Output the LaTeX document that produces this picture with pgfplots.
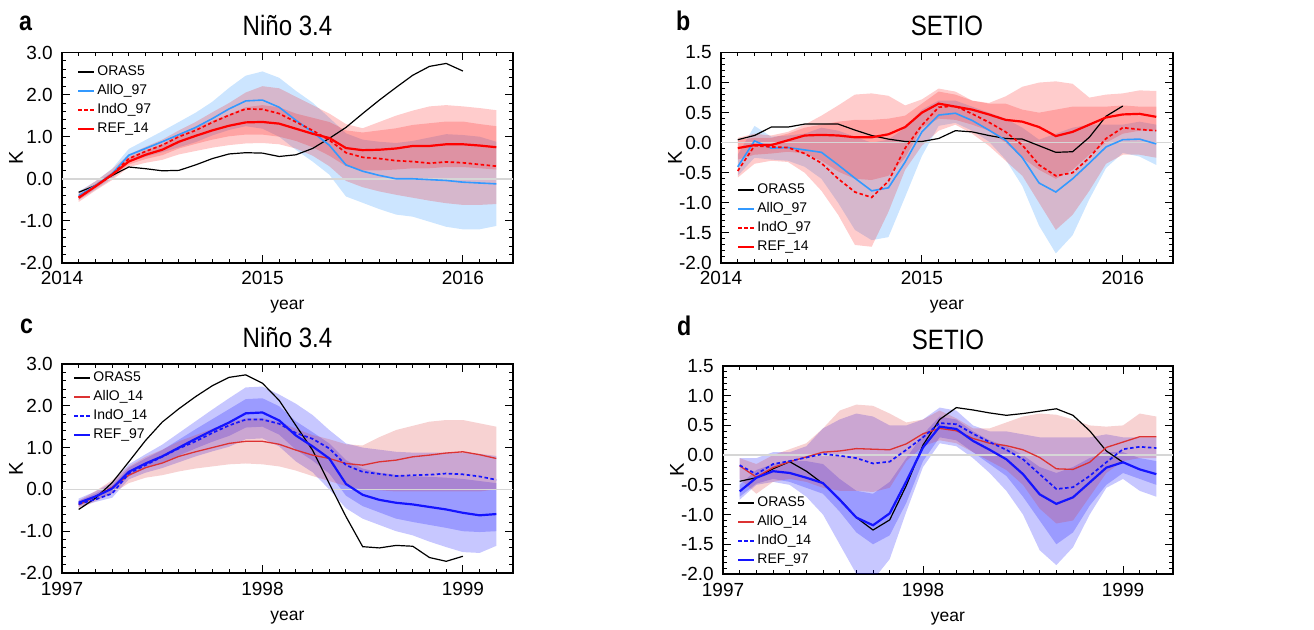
\documentclass[border=0pt]{standalone}
\usepackage{fontspec}
\setmainfont{Liberation Sans}[FakeStretch=0.86]
\newfontfamily\tf{Liberation Sans}
\usepackage{pgfplots}
\usepackage{pgfplotstable}
\pgfplotsset{compat=1.18}
\usepgfplotslibrary{fillbetween}

\definecolor{lblue}{RGB}{51,153,255}
\definecolor{dred}{RGB}{220,50,50}
\definecolor{dblue}{RGB}{20,20,255}

% Panel a: Nino 3.4, 2014 experiments
\pgfplotstableread{
m oras allo indo ref blo bhi rolo rohi rilo rihi
1 -0.32 -0.40 -0.44 -0.45 -0.50 -0.30 -0.55 -0.32 -0.50 -0.40
2 -0.16 -0.16 -0.18 -0.18 -0.26 -0.06 -0.28 -0.06 -0.23 -0.12
3 0.08 0.12 0.10 0.10 0.00 0.24 -0.03 0.23 0.04 0.16
4 0.28 0.56 0.48 0.41 0.41 0.71 0.28 0.58 0.34 0.50
5 0.24 0.72 0.65 0.57 0.52 0.92 0.38 0.76 0.47 0.67
6 0.19 0.88 0.80 0.69 0.63 1.13 0.45 0.93 0.56 0.82
7 0.20 1.05 1.00 0.88 0.75 1.35 0.58 1.15 0.72 1.04
8 0.33 1.22 1.15 1.02 0.87 1.57 0.66 1.35 0.83 1.21
9 0.48 1.43 1.34 1.15 1.03 1.83 0.74 1.58 0.93 1.38
10 0.59 1.66 1.51 1.26 1.16 2.16 0.80 1.80 1.01 1.53
11 0.62 1.85 1.66 1.34 1.25 2.45 0.84 2.05 1.05 1.70
12 0.61 1.87 1.65 1.35 1.19 2.55 0.85 2.20 1.05 1.75
13 0.53 1.70 1.55 1.31 1.00 2.40 0.82 2.15 1.00 1.70
14 0.57 1.39 1.35 1.19 0.69 2.09 0.72 1.95 0.90 1.55
15 0.72 1.11 1.15 1.07 0.41 1.81 0.55 1.75 0.75 1.45
16 0.96 0.80 0.92 0.97 0.10 1.45 0.30 1.55 0.55 1.35
17 1.22 0.33 0.62 0.73 -0.42 1.08 -0.05 1.30 0.30 1.15
18 1.55 0.18 0.51 0.68 -0.57 0.93 -0.20 1.20 0.20 1.10
19 1.87 0.08 0.48 0.69 -0.72 0.88 -0.30 1.35 0.20 1.15
20 2.17 0.00 0.43 0.72 -0.85 0.85 -0.38 1.50 0.22 1.20
21 2.46 0.00 0.41 0.78 -0.90 0.90 -0.45 1.62 0.25 1.28
22 2.67 -0.02 0.37 0.78 -1.02 0.98 -0.52 1.72 0.25 1.32
23 2.74 -0.04 0.40 0.82 -1.14 1.06 -0.58 1.75 0.28 1.36
24 2.56 -0.08 0.38 0.82 -1.20 1.04 -0.62 1.72 0.28 1.36
25 nan -0.10 0.34 0.79 -1.20 1.00 -0.62 1.68 0.25 1.30
26 nan -0.12 0.30 0.75 -1.12 0.88 -0.60 1.63 0.22 1.25
}\dataA

% Panel b: SETIO, 2014 experiments
\pgfplotstableread{
m oras allo indo ref blo bhi rolo rohi rilo rihi
1 0.05 -0.40 -0.47 -0.09 -0.55 -0.20 -0.58 0.08 -0.28 0.05
2 0.12 0.03 -0.05 -0.04 -0.25 0.28 -0.35 0.15 -0.20 0.08
3 0.26 -0.09 -0.07 -0.04 -0.28 0.10 -0.30 0.12 -0.18 0.08
4 0.26 -0.08 -0.08 0.04 -0.30 0.12 -0.32 0.18 -0.15 0.15
5 0.31 -0.12 -0.18 0.12 -0.40 0.15 -0.50 0.30 -0.18 0.25
6 0.31 -0.16 -0.34 0.13 -0.60 0.25 -0.80 0.45 -0.30 0.30
7 0.31 -0.37 -0.60 0.12 -1.00 0.20 -1.20 0.62 -0.48 0.35
8 0.21 -0.59 -0.82 0.09 -1.45 0.10 -1.70 0.80 -0.60 0.38
9 0.12 -0.80 -0.91 0.09 -1.62 0.00 -1.73 0.82 -0.62 0.38
10 0.06 -0.75 -0.64 0.14 -1.57 0.05 -1.15 0.78 -0.55 0.40
11 0.02 -0.32 -0.09 0.26 -0.90 0.25 -0.45 0.62 -0.25 0.45
12 0.02 0.18 0.29 0.50 -0.22 0.55 -0.05 0.72 0.25 0.65
13 0.07 0.46 0.59 0.65 0.28 0.70 0.20 0.90 0.40 0.85
14 0.20 0.49 0.61 0.60 0.33 0.70 0.30 0.85 0.38 0.80
15 0.18 0.37 0.48 0.55 0.20 0.60 0.15 0.70 0.30 0.70
16 0.12 0.21 0.34 0.47 0.02 0.50 -0.05 0.66 0.20 0.65
17 0.07 0.04 0.18 0.38 -0.28 0.40 -0.30 0.77 0.00 0.65
18 0.06 -0.25 -0.04 0.35 -0.72 0.25 -0.55 0.93 -0.25 0.55
19 -0.05 -0.67 -0.37 0.26 -1.38 0.05 -1.00 1.00 -0.45 0.50
20 -0.16 -0.82 -0.55 0.11 -1.84 0.15 -1.45 1.02 -0.60 0.55
21 -0.15 -0.60 -0.50 0.18 -1.54 0.25 -1.20 0.98 -0.45 0.60
22 0.09 -0.34 -0.25 0.30 -0.94 0.30 -0.80 0.75 -0.20 0.60
23 0.44 -0.07 0.07 0.42 -0.42 0.30 -0.35 0.80 0.00 0.60
24 0.61 0.05 0.25 0.47 -0.17 0.30 -0.20 0.82 0.15 0.62
25 nan 0.06 0.22 0.48 -0.23 0.35 -0.20 0.87 0.20 0.60
26 nan -0.02 0.20 0.43 -0.37 0.30 -0.25 0.86 0.20 0.60
}\dataB

% Panel c: Nino 3.4, 1997 experiments
\pgfplotstableread{
m oras allo indo ref rlo rhi bolo bohi bilo bihi
1 -0.48 -0.37 -0.35 -0.32 -0.47 -0.27 -0.42 -0.22 -0.38 -0.27
2 -0.21 -0.17 -0.24 -0.17 -0.28 -0.04 -0.30 -0.05 -0.25 -0.10
3 0.16 0.05 -0.10 0.02 -0.10 0.22 -0.20 0.17 -0.10 0.10
4 0.66 0.34 0.38 0.42 0.15 0.55 0.24 0.60 0.32 0.52
5 1.17 0.52 0.58 0.62 0.28 0.78 0.40 0.84 0.50 0.74
6 1.61 0.63 0.78 0.79 0.34 0.95 0.51 1.07 0.64 0.94
7 1.93 0.79 0.98 1.00 0.43 1.15 0.65 1.35 0.81 1.19
8 2.22 0.90 1.15 1.21 0.50 1.30 0.79 1.63 0.98 1.44
9 2.48 1.00 1.35 1.41 0.55 1.45 0.91 1.91 1.14 1.68
10 2.68 1.10 1.53 1.60 0.60 1.60 1.02 2.18 1.28 1.92
11 2.74 1.15 1.67 1.82 0.62 1.70 1.20 2.44 1.48 2.16
12 2.54 1.15 1.67 1.84 0.60 1.70 1.22 2.46 1.50 2.18
13 2.13 1.08 1.57 1.65 0.55 1.62 1.03 2.27 1.31 1.99
14 1.53 0.94 1.35 1.29 0.45 1.45 0.67 2.05 0.95 1.63
15 0.94 0.82 1.21 1.03 0.32 1.30 0.41 1.78 0.69 1.37
16 0.14 0.74 0.98 0.74 0.20 1.20 0.00 1.42 0.38 1.10
17 -0.65 0.62 0.58 0.13 0.08 1.08 -0.45 1.10 -0.15 0.70
18 -1.37 0.58 0.42 -0.13 0.00 1.05 -0.70 1.00 -0.40 0.50
19 -1.40 0.66 0.37 -0.25 -0.02 1.25 -0.85 0.95 -0.55 0.40
20 -1.34 0.70 0.32 -0.32 -0.05 1.42 -1.00 0.90 -0.70 0.35
21 -1.36 0.78 0.34 -0.36 -0.05 1.52 -1.10 0.88 -0.78 0.32
22 -1.63 0.82 0.35 -0.42 -0.05 1.62 -1.25 0.88 -0.85 0.30
23 -1.72 0.87 0.38 -0.48 -0.05 1.66 -1.38 0.88 -0.92 0.28
24 -1.60 0.90 0.36 -0.56 -0.05 1.66 -1.50 0.88 -1.00 0.25
25 nan 0.83 0.31 -0.62 -0.05 1.58 -1.52 0.85 -1.02 0.20
26 nan 0.74 0.23 -0.59 0.00 1.50 -1.35 0.80 -1.00 0.15
}\dataC

% Panel d: SETIO, 1997 experiments
\pgfplotstableread{
m oras allo indo ref rlo rhi bolo bohi bilo bihi
1 -0.44 -0.18 -0.17 -0.61 -0.40 -0.05 -0.75 -0.05 -0.70 -0.50
2 -0.38 -0.37 -0.32 -0.38 -0.65 -0.15 -0.50 -0.05 -0.48 -0.25
3 -0.23 -0.21 -0.15 -0.27 -0.45 0.00 -0.45 0.05 -0.40 -0.15
4 -0.11 -0.11 -0.10 -0.30 -0.40 0.10 -0.50 0.05 -0.45 -0.10
5 -0.27 -0.03 -0.04 -0.38 -0.45 0.20 -0.70 0.15 -0.55 -0.10
6 -0.48 0.05 0.02 -0.47 -0.55 0.45 -1.00 0.45 -0.65 -0.15
7 -0.74 0.07 -0.01 -0.75 -0.60 0.75 -1.50 0.60 -0.95 -0.40
8 -1.05 0.11 -0.05 -1.05 -0.60 0.85 -2.00 0.70 -1.30 -0.60
9 -1.26 0.10 -0.14 -1.18 -0.62 0.83 -2.10 0.65 -1.50 -0.65
10 -1.09 0.09 -0.11 -0.98 -0.55 0.70 -1.75 0.50 -1.35 -0.45
11 -0.51 0.19 0.09 -0.44 -0.10 0.55 -0.95 0.50 -0.80 -0.05
12 0.17 0.36 0.30 0.13 0.15 0.60 -0.20 0.60 -0.10 0.35
13 0.60 0.45 0.54 0.48 0.25 0.75 0.20 0.80 0.30 0.65
14 0.80 0.41 0.52 0.44 0.20 0.62 0.15 0.75 0.25 0.60
15 0.76 0.28 0.36 0.24 0.05 0.45 -0.05 0.50 0.05 0.40
16 0.71 0.20 0.22 0.09 -0.10 0.45 -0.30 0.40 -0.15 0.25
17 0.67 0.16 0.09 -0.07 -0.25 0.55 -0.60 0.40 -0.35 0.15
18 0.70 0.09 -0.07 -0.32 -0.50 0.65 -1.00 0.35 -0.70 0.00
19 0.74 -0.04 -0.32 -0.66 -0.90 0.70 -1.60 0.30 -1.10 -0.20
20 0.78 -0.23 -0.57 -0.82 -1.15 0.68 -1.85 0.30 -1.50 -0.30
21 0.67 -0.24 -0.54 -0.71 -1.10 0.60 -1.55 0.30 -1.30 -0.20
22 0.41 -0.12 -0.35 -0.46 -0.70 0.50 -1.00 0.30 -0.85 -0.05
23 0.07 0.13 -0.12 -0.21 -0.30 0.48 -0.55 0.35 -0.50 0.05
24 -0.12 0.22 0.10 -0.12 -0.10 0.50 -0.40 0.30 -0.30 0.05
25 nan 0.31 0.14 -0.24 -0.05 0.70 -0.60 0.30 -0.40 -0.05
26 nan 0.31 0.12 -0.32 -0.05 0.65 -0.70 0.30 -0.50 -0.10
}\dataD

\newcommand{\tickfont}{\tf\fontsize{19}{20}\selectfont}
\newcommand{\band}[6]{%
  \addplot[draw=none, forget plot, name path=#6lo] table[x=m,y=#2]{#1};
  \addplot[draw=none, forget plot, name path=#6hi] table[x=m,y=#3]{#1};
  \addplot[fill=#4, fill opacity=#5, draw=none, forget plot] fill between[of=#6lo and #6hi];
}

\pgfplotsset{
  base/.style={
    scale only axis, anchor=south west,
    xmin=0, xmax=27, xtick={0,12,24}, minor xtick={0,...,27},
    axis line style={line width=1.5pt},
    major tick length=8pt, minor tick length=4pt,
    tick style={line width=1pt, black},
    xticklabel style={anchor=base, yshift=-22pt, inner sep=0pt, font=\tickfont},
    yticklabel style={anchor=east, xshift=-9pt, inner sep=0pt, font=\tickfont},
    xlabel={year},
    xlabel style={at={(axis description cs:0.5,0)}, anchor=base, yshift=-47pt, font=\tf\fontsize{17.5}{19}\selectfont},
    ylabel={K},
    ylabel style={at={(axis description cs:-0.102,0.5)}, anchor=center, font=\tf\fontsize{20}{22}\selectfont},
    title style={at={(axis description cs:0.5,1)}, anchor=base, yshift=10.5pt, font=\fontsize{28}{30}\selectfont},
    legend cell align=left,
    legend style={draw=none, fill=none, inner sep=0pt, font=\tf\fontsize{14}{16}\selectfont,
      row sep=5.5pt, column sep=2pt, nodes={inner sep=0pt, text height=10.5pt, text depth=3pt}},
    legend image code/.code={\draw[#1] (0pt,0pt) -- (16pt,0pt);},
  },
  nino/.style={ymin=-2, ymax=3, ytick={-2,-1,0,1,2,3},
    yticklabels={-2.0,-1.0,0.0,1.0,2.0,3.0}, minor ytick={-2,-1.8,...,3}},
  setio/.style={ymin=-2, ymax=1.5, ytick={-2,-1.5,-1,-0.5,0,0.5,1,1.5},
    yticklabels={-2.0,-1.5,-1.0,-0.5,0.0,0.5,1.0,1.5}, minor ytick={-2,-1.9,...,1.5}},
  zeroline/.style={line width=1.5pt, color=black!16, forget plot},
  dashedl/.style={dash pattern=on 3.5pt off 2.5pt},
}

\begin{document}
\begin{tikzpicture}

% ---------- a ----------
\begin{axis}[base, nino, at={(62pt,366pt)}, width=451pt, height=210.5pt,
  xticklabels={2014,2015,2016}, title={Niño 3.4},
  legend style={at={(axis description cs:0,1)}, anchor=north west, xshift=15pt, yshift=-12.5pt}]
\addplot[zeroline] coordinates {(0,0) (27,0)};
\band{\dataA}{blo}{bhi}{lblue}{0.25}{aB}
\band{\dataA}{rolo}{rohi}{red}{0.2}{aRO}
\band{\dataA}{rilo}{rihi}{red}{0.2}{aRI}
\addplot[black, line width=1.2pt] table[x=m,y=oras]{\dataA};
\addlegendentry{ORAS5}
\addplot[lblue, line width=1.6pt] table[x=m,y=allo]{\dataA};
\addlegendentry{AllO\_97}
\addplot[red, line width=1.7pt, dashedl] table[x=m,y=indo]{\dataA};
\addlegendentry{IndO\_97}
\addplot[red, line width=2.2pt] table[x=m,y=ref]{\dataA};
\addlegendentry{REF\_14}
\end{axis}

% ---------- b ----------
\begin{axis}[base, setio, at={(721pt,366pt)}, width=452pt, height=210.5pt,
  xticklabels={2014,2015,2016}, title={SETIO},
  legend style={at={(axis description cs:0,0)}, anchor=south west, xshift=16pt, yshift=9pt}]
\addplot[zeroline] coordinates {(0,0) (27,0)};
\band{\dataB}{blo}{bhi}{lblue}{0.25}{bB}
\band{\dataB}{rolo}{rohi}{red}{0.2}{bRO}
\band{\dataB}{rilo}{rihi}{red}{0.2}{bRI}
\addplot[black, line width=1.2pt] table[x=m,y=oras]{\dataB};
\addlegendentry{ORAS5}
\addplot[lblue, line width=1.6pt] table[x=m,y=allo]{\dataB};
\addlegendentry{AllO\_97}
\addplot[red, line width=1.7pt, dashedl] table[x=m,y=indo]{\dataB};
\addlegendentry{IndO\_97}
\addplot[red, line width=2.2pt] table[x=m,y=ref]{\dataB};
\addlegendentry{REF\_14}
\end{axis}

% ---------- c ----------
\begin{axis}[base, nino, at={(62pt,56pt)}, width=451pt, height=209pt,
  xticklabels={1997,1998,1999}, title={Niño 3.4},
  legend style={at={(axis description cs:0,1)}, anchor=north west, xshift=11pt, yshift=-7pt}]
\addplot[zeroline] coordinates {(0,0) (27,0)};
\band{\dataC}{bolo}{bohi}{blue}{0.22}{cBO}
\band{\dataC}{bilo}{bihi}{blue}{0.22}{cBI}
\band{\dataC}{rlo}{rhi}{dred}{0.22}{cR}
\addplot[black, line width=1.2pt] table[x=m,y=oras]{\dataC};
\addlegendentry{ORAS5}
\addplot[dred, line width=1.3pt] table[x=m,y=allo]{\dataC};
\addlegendentry{AllO\_14}
\addplot[dblue, line width=1.7pt, dashedl] table[x=m,y=indo]{\dataC};
\addlegendentry{IndO\_14}
\addplot[dblue, line width=2.2pt] table[x=m,y=ref]{\dataC};
\addlegendentry{REF\_97}
\end{axis}

% ---------- d ----------
\begin{axis}[base, setio, at={(723pt,55pt)}, width=450pt, height=208pt,
  xticklabels={1997,1998,1999}, title={SETIO},
  legend style={at={(axis description cs:0,0)}, anchor=south west, xshift=14pt, yshift=7pt}]
\addplot[zeroline] coordinates {(0,0) (27,0)};
\band{\dataD}{bolo}{bohi}{blue}{0.22}{dBO}
\band{\dataD}{bilo}{bihi}{blue}{0.22}{dBI}
\band{\dataD}{rlo}{rhi}{dred}{0.22}{dR}
\addplot[black, line width=1.2pt] table[x=m,y=oras]{\dataD};
\addlegendentry{ORAS5}
\addplot[dred, line width=1.3pt] table[x=m,y=allo]{\dataD};
\addlegendentry{AllO\_14}
\addplot[dblue, line width=1.7pt, dashedl] table[x=m,y=indo]{\dataD};
\addlegendentry{IndO\_14}
\addplot[dblue, line width=2.2pt] table[x=m,y=ref]{\dataD};
\addlegendentry{REF\_97}
\end{axis}

\node[anchor=base west, inner sep=0pt, font=\bfseries\fontsize{27}{28}\selectfont] at (19pt,598pt) {a};
\node[anchor=base west, inner sep=0pt, font=\bfseries\fontsize{27}{28}\selectfont] at (676pt,598pt) {b};
\node[anchor=base west, inner sep=0pt, font=\bfseries\fontsize{27}{28}\selectfont] at (20pt,295pt) {c};
\node[anchor=base west, inner sep=0pt, font=\bfseries\fontsize{27}{28}\selectfont] at (677pt,293pt) {d};

\pgfresetboundingbox
\useasboundingbox (0pt,0pt) rectangle (1314pt,629pt);
\end{tikzpicture}
\end{document}
